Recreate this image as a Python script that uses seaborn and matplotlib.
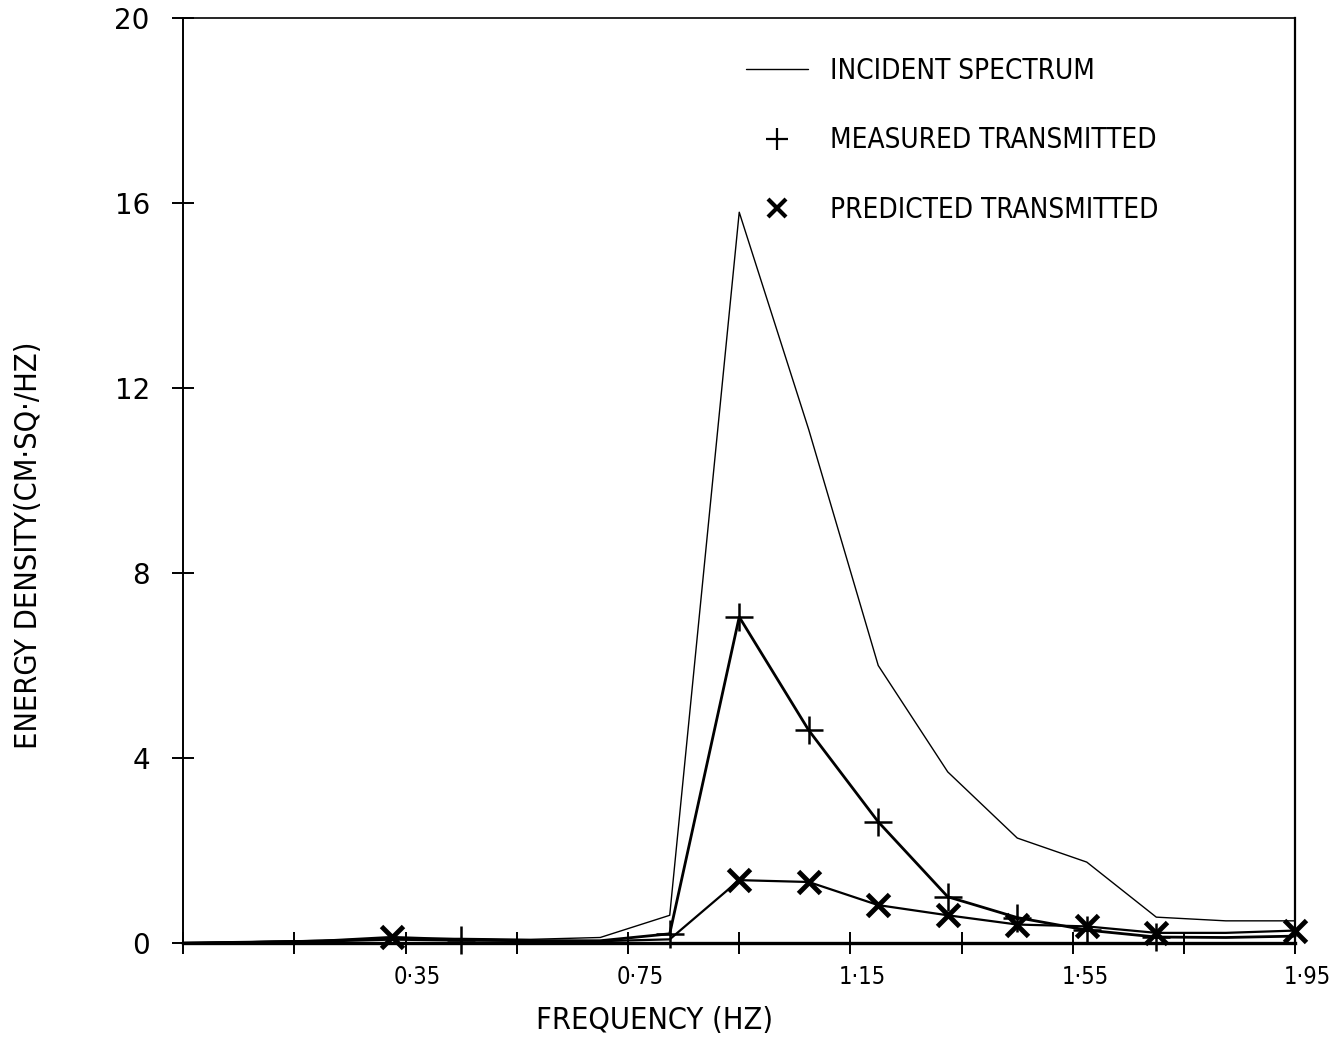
import matplotlib
matplotlib.use("Agg")
import matplotlib.pyplot as plt
import matplotlib.transforms as mtransforms
from matplotlib.lines import Line2D
import numpy as np
import pandas as pd
import seaborn as sns

# Frequencies (Hz) of the spectral estimates
freq = [-0.05, 0.075, 0.2, 0.325, 0.45, 0.575, 0.7, 0.825, 0.95,
        1.075, 1.2, 1.325, 1.45, 1.575, 1.7, 1.825, 1.95]

# Energy density (cm^2/Hz)
incident = [0.0, 0.03, 0.06, 0.1, 0.1, 0.08, 0.12, 0.6, 15.8,
            11.1, 6.0, 3.7, 2.27, 1.75, 0.56, 0.48, 0.48]
measured = [0.0, 0.02, 0.04, 0.08, 0.06, 0.05, 0.05, 0.2, 7.05,
            4.6, 2.62, 1.0, 0.55, 0.28, 0.13, 0.12, 0.15]
predicted = [0.0, 0.02, 0.05, 0.13, 0.08, 0.05, 0.04, 0.08, 1.36,
             1.32, 0.82, 0.6, 0.4, 0.36, 0.22, 0.22, 0.27]

series_names = ["INCIDENT SPECTRUM", "MEASURED TRANSMITTED", "PREDICTED TRANSMITTED"]

x_ticks = [-0.05, 0.15, 0.35, 0.55, 0.75, 0.95, 1.15, 1.35, 1.55, 1.75, 1.95]
x_tick_labels = ["", "", "0·35", "", "0·75", "", "1·15", "", "1·55", "", "1·95"]
y_ticks = [0, 4, 8, 12, 16, 20]
y_tick_labels = ["0", "4", "8", "12", "16", "20"]

df = pd.DataFrame({"freq": freq, "incident": incident,
                   "measured": measured, "predicted": predicted})

sns.set_style("ticks")
plt.rcParams["font.family"] = ["DejaVu Sans"]
plt.rcParams["font.stretch"] = "condensed"
plt.rcParams["text.color"] = "black"
plt.rcParams["axes.labelcolor"] = "black"

fig = plt.figure(figsize=(13.37, 10.44), dpi=100)
ax = fig.add_axes([0.137, 0.0967, 0.8318, 0.8861])

# Incident spectrum: thin plain line
sns.lineplot(data=df, x="freq", y="incident", ax=ax, color="black",
             linewidth=1.0, estimator=None, sort=False)

# Measured transmitted: line with '+' symbols
sns.lineplot(data=df, x="freq", y="measured", ax=ax, color="black",
             linewidth=2.0, estimator=None, sort=False,
             marker="+", markersize=20, markeredgewidth=1.8,
             markeredgecolor="black", markerfacecolor="black",
             markevery=[4, 7, 8, 9, 10, 11, 12, 13, 14])

# Predicted transmitted: line with 'x' symbols
sns.lineplot(data=df, x="freq", y="predicted", ax=ax, color="black",
             linewidth=1.6, estimator=None, sort=False,
             marker="x", markersize=16, markeredgewidth=3.5,
             markeredgecolor="black", markerfacecolor="black",
             markevery=[3, 8, 9, 10, 11, 12, 13, 14, 16])

for ln in ax.lines:
    ln.set_clip_on(False)

ax.set_xlim(-0.05, 1.95)
ax.set_ylim(0, 20)

ax.tick_params(axis="both", direction="inout", length=16, width=1.4,
               color="black", labelcolor="black",
               bottom=True, left=True, top=False, right=False)
ax.tick_params(axis="x", pad=8)
ax.tick_params(axis="y", pad=16)

ax.set_xticks(x_ticks)
ax.set_xticklabels(x_tick_labels, fontsize=17)
ax.set_yticks(y_ticks)
ax.set_yticklabels(y_tick_labels, fontsize=20, fontstretch="normal")

# Shift the frequency labels slightly right of their ticks
offset = mtransforms.ScaledTranslation(0.12, 0, fig.dpi_scale_trans)
for lbl in ax.get_xticklabels():
    lbl.set_transform(lbl.get_transform() + offset)

for side, lw in (("left", 1.4), ("bottom", 2.4), ("top", 1.2), ("right", 1.6)):
    ax.spines[side].set_visible(True)
    ax.spines[side].set_color("black")
    ax.spines[side].set_linewidth(lw)

ax.set_xlabel("FREQUENCY (HZ)", fontsize=22)
ax.xaxis.set_label_coords(0.424, -0.068)
ax.set_ylabel("ENERGY DENSITY(CM·SQ·/HZ)", fontsize=22)
ax.yaxis.set_label_coords(-0.126, 0.43)

handles = [
    Line2D([], [], color="black", linewidth=1.0),
    Line2D([], [], color="black", linestyle="none", marker="+",
           markersize=16, markeredgewidth=1.6),
    Line2D([], [], color="black", linestyle="none", marker="x",
           markersize=13, markeredgewidth=3.0),
]
ax.legend(handles, series_names, loc="upper left",
          bbox_to_anchor=(0.484, 0.985), frameon=False, fontsize=20,
          handlelength=2.2, handletextpad=0.8, labelspacing=1.5)

fig.savefig("out.png", dpi=100)
